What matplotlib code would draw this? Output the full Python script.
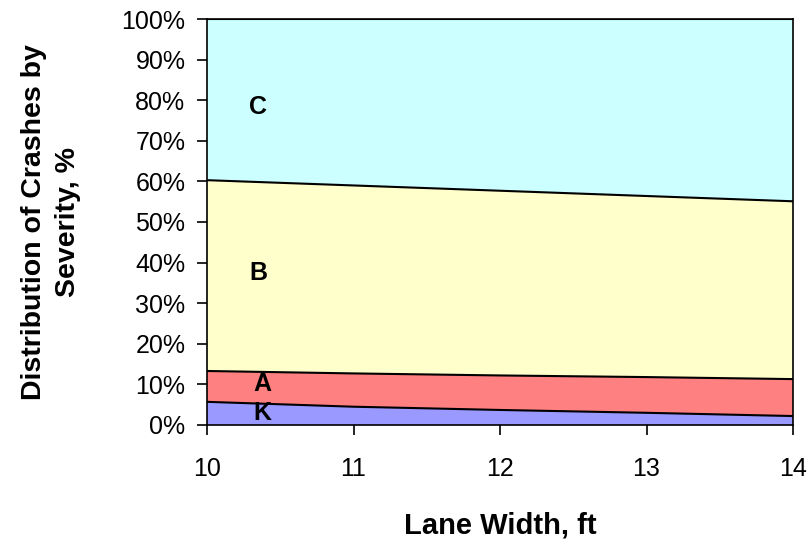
import numpy as np
import matplotlib
matplotlib.use("Agg")
import matplotlib.pyplot as plt

plt.rcParams['font.family'] = ['Liberation Sans', 'DejaVu Sans']

# Crash severity shares (%) by lane width
lane_width = [10, 11, 12, 13, 14]
fatal_k = [5.7, 4.5, 3.7, 3.0, 2.2]
injury_a = [7.6, 8.2, 8.5, 8.8, 9.1]
injury_b = [47.0, 46.3, 45.5, 44.6, 43.8]
injury_c = [39.7, 41.0, 42.3, 43.6, 44.9]

severity_names = ['K', 'A', 'B', 'C']
fill_colors = ['#9999FF', '#FF8080', '#FFFFCC', '#CCFFFF']
# where each band letter goes (x, %)
name_pos = [(10.38, 3.0), (10.38, 10.0), (10.35, 37.5), (10.35, 78.3)]

fig = plt.figure(figsize=(8.07, 5.4), dpi=100)
ax = fig.add_axes([0.2565, 0.213, 0.7262, 0.7518])

series = [fatal_k, injury_a, injury_b, injury_c]
lower = np.zeros(len(lane_width))
for vals, col in zip(series, fill_colors):
    upper = lower + np.array(vals)
    ax.fill_between(lane_width, lower, upper, facecolor=col, edgecolor='none')
    ax.plot(lane_width, upper, color='black', lw=1.5)
    lower = upper

for name, (px, py) in zip(severity_names, name_pos):
    ax.text(px, py, name, fontsize=18, fontweight='bold', ha='center', va='center')

ax.set_xlim(10, 14)
ax.set_ylim(0, 100)
ax.set_xticks(lane_width)
ax.set_yticks(np.arange(0, 101, 10))
ax.set_yticklabels([f'{v}%' for v in range(0, 101, 10)])
ax.tick_params(axis='both', direction='out', length=7, width=1.2, labelsize=18)
ax.tick_params(axis='y', pad=8.5)
ax.tick_params(axis='x', pad=16)
for sp in ax.spines.values():
    sp.set_linewidth(1.2)

ax.set_xlabel('Lane Width, ft', fontsize=21, fontweight='bold', labelpad=22)
ax.set_ylabel('Distribution of Crashes by\nSeverity, %', fontsize=20.5,
              fontweight='bold', labelpad=29, linespacing=1.4)

fig.savefig('out.png', dpi=100)
